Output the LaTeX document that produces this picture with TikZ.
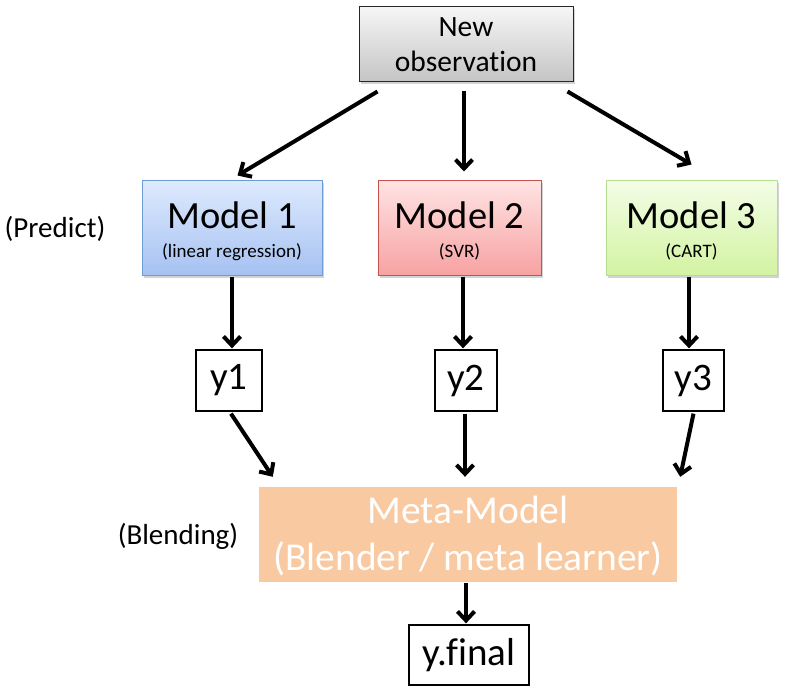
\documentclass[tikz,border=0pt]{standalone}
\usepackage{fontspec}
\setmainfont[Ligatures=CommonOff]{Carlito}
\usetikzlibrary{arrows.meta,shadows}
\definecolor{obsTop}{HTML}{F6F6F6}
\definecolor{obsBot}{HTML}{C4C4C4}
\definecolor{blueTop}{HTML}{DDEAFD}
\definecolor{blueBot}{HTML}{A6C1F2}
\definecolor{blueLine}{HTML}{6E9AD6}
\definecolor{redTop}{HTML}{FFE3E3}
\definecolor{redBot}{HTML}{F7A2A2}
\definecolor{redLine}{HTML}{C9504D}
\definecolor{greenTop}{HTML}{F3FDE6}
\definecolor{greenBot}{HTML}{D3F3A2}
\definecolor{greenLine}{HTML}{B5DB8E}
\definecolor{peach}{HTML}{F9C9A2}
\tikzset{
  shbox/.style={rectangle, inner sep=0pt, line width=1pt,
    drop shadow={shadow xshift=2pt, shadow yshift=-2.5pt, opacity=0.35}},
  ybox/.style={rectangle, draw=black, line width=1.3pt, fill=white, inner sep=0pt,
    font=\fontsize{39}{46}\selectfont},
  bigtxt/.style={font=\fontsize{38.5}{46}\selectfont, anchor=base, inner sep=0pt},
  smalltxt/.style={font=\fontsize{19}{23}\selectfont, anchor=base, inner sep=0pt},
  sidetxt/.style={font=\fontsize{29}{35}\selectfont, inner sep=0pt},
  arr/.style={-{Straight Barb[length=9pt,width=17pt]}, line width=4pt, black}
}
\begin{document}
\begin{tikzpicture}[x=1pt,y=-1pt]
\useasboundingbox (0,0) rectangle (803,695);

% top box
\node[shbox, draw=black!85, top color=obsTop, bottom color=obsBot,
      minimum width=214pt, minimum height=75pt] (obs) at (466,44.5) {};
\node[font=\fontsize{29.5}{36}\selectfont, anchor=base, inner sep=0pt] (obsA) at ([yshift=7.5pt]obs.center) {New};
\node[font=\fontsize{29.5}{36}\selectfont, anchor=base, inner sep=0pt] (obsB) at ([yshift=-27.5pt]obs.center) {observation};

% model boxes
\node[shbox, draw=blueLine, top color=blueTop, bottom color=blueBot,
      minimum width=180pt, minimum height=94pt] (m1) at (232,228) {};
\node[bigtxt] (m1a) at ([yshift=-1pt]m1.center) {Model 1};
\node[smalltxt] (m1b) at ([yshift=-30pt]m1.center) {(linear regression)};

\node[shbox, draw=redLine, top color=redTop, bottom color=redBot,
      minimum width=163pt, minimum height=94pt] (m2) at (459.5,228) {};
\node[bigtxt] (m2a) at ([yshift=-1pt]m2.center) {Model 2};
\node[smalltxt] (m2b) at ([yshift=-30pt]m2.center) {(SVR)};

\node[shbox, draw=greenLine, top color=greenTop, bottom color=greenBot,
      minimum width=171pt, minimum height=94pt] (m3) at (691.5,228) {};
\node[bigtxt] (m3a) at ([yshift=-1pt]m3.center) {Model 3};
\node[smalltxt] (m3b) at ([yshift=-30pt]m3.center) {(CART)};

\node[sidetxt] (pred) at (55,229) {(Predict)};

% y boxes
\node[ybox, minimum width=66pt, minimum height=61pt] (y1) at (229,380.5) {y1};
\node[ybox, minimum width=62pt, minimum height=61pt] (y2) at (466,380.5) {y2};
\node[ybox, minimum width=61pt, minimum height=61pt] (y3) at (693.5,380.5) {y3};

% meta model
\node[rectangle, fill=peach, inner sep=0pt, minimum width=418pt, minimum height=95pt] (meta) at (468,534.5) {};
\node[font=\fontsize{39.5}{47}\selectfont, text=white, anchor=base, inner sep=0pt] (metaA) at ([yshift=11.5pt]meta.center) {Meta-Model};
\node[font=\fontsize{39.5}{47}\selectfont, text=white, anchor=base, inner sep=0pt] (metaB) at ([yshift=-35.5pt]meta.center) {(Blender / meta learner)};

\node[sidetxt] (blend) at (178,536) {(Blending)};

% final
\node[ybox, minimum width=120pt, minimum height=60pt] (yf) at (469,655) {y.final};

% arrows
\draw[arr] ([xshift=19pt,yshift=-9pt]obs.south west) -- ([xshift=96pt,yshift=5pt]m1.north west);
\draw[arr] ([xshift=-2pt,yshift=-9pt]obs.south) -- ([xshift=-2pt,yshift=9pt]obs.south |- m2.north);
\draw[arr] ([xshift=-6pt,yshift=-9pt]obs.south east) -- ([xshift=86pt,yshift=16pt]m3.north west);

\draw[arr] ([yshift=-1pt]m1.south) -- ([xshift=3pt,yshift=1pt]y1.north);
\draw[arr] ([xshift=3.5pt,yshift=-1pt]m2.south) -- ([xshift=-3pt,yshift=1pt]y2.north);
\draw[arr] ([xshift=-2.5pt,yshift=-1pt]m3.south) -- ([xshift=-4.5pt,yshift=1pt]y3.north);

\draw[arr] ([xshift=2pt,yshift=-2pt]y1.south) -- ([xshift=14pt,yshift=10pt]meta.north west);
\draw[arr] ([xshift=-1pt,yshift=-2pt]y2.south) -- ([xshift=-3pt,yshift=10pt]meta.north);
\draw[arr] ([yshift=-2pt]y3.south) -- ([xshift=3pt,yshift=10pt]meta.north east);

\draw[arr] ([xshift=-2pt,yshift=-1pt]meta.south) -- ([xshift=-3pt,yshift=1pt]yf.north);
\end{tikzpicture}
\end{document}
